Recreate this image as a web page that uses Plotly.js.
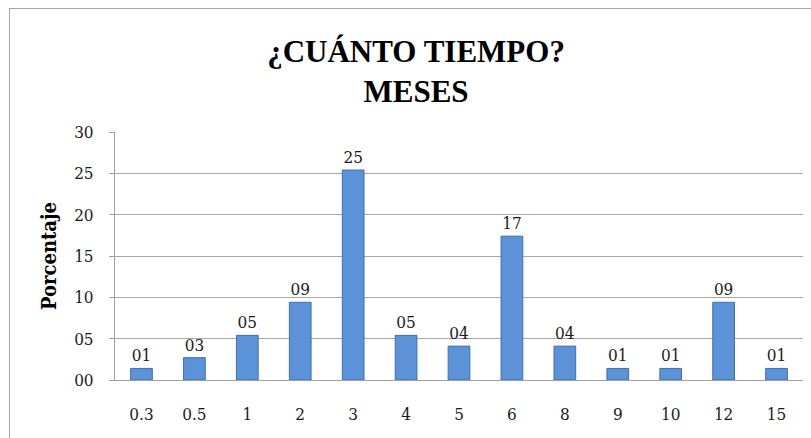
<!DOCTYPE html>
<html>
<head>
<meta charset="utf-8">
<script src="https://cdn.plot.ly/plotly-3.0.1.min.js"></script>
<style>
  html, body { margin: 0; padding: 0; background: #ffffff; }
  #wrap { position: relative; width: 811px; height: 438px; overflow: hidden; }
  #frame { position: absolute; left: 9px; top: 8px; width: 820px; height: 450px; border: 1px solid #a6a6a6; box-sizing: border-box; pointer-events: none; z-index: 5; }
  #chart { position: absolute; left: 0; top: 0; width: 811px; height: 438px; }
</style>
</head>
<body>
<div id="wrap">
  <div id="chart"></div>
  <div id="frame"></div>
</div>
<script>
// Data
const categories = ["0.3", "0.5", "1", "2", "3", "4", "5", "6", "8", "9", "10", "12", "15"];
const porcentaje = [1.4, 2.7, 5.4, 9.4, 25.4, 5.4, 4.1, 17.4, 4.1, 1.4, 1.4, 9.4, 1.4];
const yTicks = [0, 5, 10, 15, 20, 25, 30];

const serif = "'DejaVu Serif Condensed', 'DejaVu Serif', 'Liberation Serif', serif";
const titleSerif = "'Liberation Serif', 'DejaVu Serif', serif";

const trace = {
  type: "bar",
  x: categories,
  y: porcentaje,
  marker: {
    color: "#5b92d8",
    line: { color: "#3d6fb3", width: 1 }
  },
  texttemplate: "%{y:02d}",
  textposition: "outside",
  cliponaxis: false,
  textfont: { family: serif, size: 17, color: "#1a1a1a" },
  hoverinfo: "skip"
};

const layout = {
  width: 811,
  height: 438,
  margin: { l: 115, r: 8, t: 132, b: 58 },
  paper_bgcolor: "#ffffff",
  plot_bgcolor: "#ffffff",
  showlegend: false,
  bargap: 0.59,
  title: {
    text: "<b>¿CUÁNTO TIEMPO?<br>MESES</b>",
    font: { family: titleSerif, size: 31, color: "#000000" },
    xref: "container",
    yref: "container",
    x: 0.513,
    xanchor: "center",
    y: 1 - 62 / 438,
    yanchor: "top"
  },
  xaxis: {
    type: "category",
    showgrid: false,
    showline: true,
    linecolor: "#a0a0a0",
    linewidth: 1,
    ticks: "",
    ticklabelstandoff: 19,
    tickfont: { family: serif, size: 17, color: "#1a1a1a" },
    zeroline: false,
    fixedrange: true
  },
  yaxis: {
    range: [0, 30],
    tickvals: yTicks,
    tickformat: "02d",
    showgrid: true,
    gridcolor: "#a8a8a8",
    gridwidth: 1,
    showline: true,
    linecolor: "#a0a0a0",
    linewidth: 1,
    ticks: "outside",
    ticklen: 5,
    tickcolor: "#a0a0a0",
    ticklabelstandoff: 12,
    tickfont: { family: serif, size: 17, color: "#1a1a1a" },
    zeroline: false,
    title: {
      text: "<b>Porcentaje</b>",
      font: { family: serif, size: 20, color: "#000000" },
      standoff: 12
    },
    automargin: false,
    fixedrange: true
  }
};

Plotly.newPlot("chart", [trace], layout, { displayModeBar: false, staticPlot: true });
</script>
</body>
</html>
